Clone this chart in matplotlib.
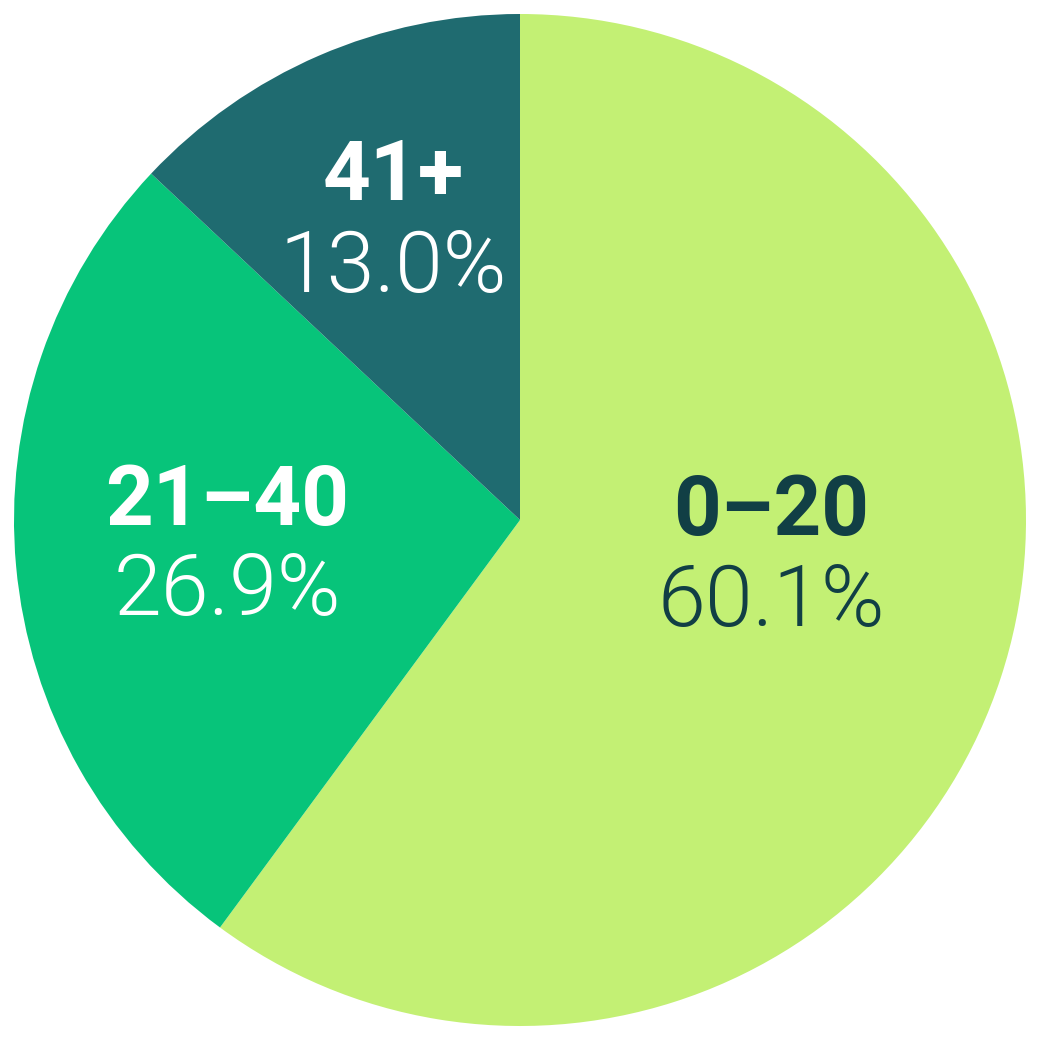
import matplotlib

matplotlib.use("Agg")
import matplotlib.pyplot as plt
from matplotlib import font_manager as fm

# age bands, clockwise from 12 o'clock
labels = ["0\u201320", "21\u201340", "41+"]
shares = [60.1, 26.9, 13.0]
colors = ["#c3f074", "#07c47a", "#1f6b70"]
text_colors = ["#113f45", "white", "white"]

# label anchors (data coords, radius = 1), baseline of name / pct
label_xy = [(0.497, -0.030), (-0.578, -0.010), (-0.250, 0.632)]
pct_y = [-0.209, -0.188, 0.451]


def _face(fname, fallback_weight):
    for f in fm.fontManager.ttflist:
        if f.fname.endswith("/" + fname):
            return fm.FontProperties(fname=f.fname)
    return fm.FontProperties(family="Roboto", weight=fallback_weight)


bold = _face("Roboto-Bold.ttf", "bold")
light = _face("Roboto-Light.ttf", "light")

fig = plt.figure(figsize=(10.4, 10.4), dpi=100)
ax = fig.add_axes([0, 0, 1, 1])
ax.pie(shares, colors=colors, startangle=90, counterclock=False,
       radius=1.0, wedgeprops=dict(linewidth=0))

for (x, y), py, name, val, tc in zip(label_xy, pct_y, labels, shares, text_colors):
    ax.text(x, y, name, ha="center", va="baseline", fontproperties=bold,
            fontsize=60, color=tc)
    ax.text(x, py, f"{val:.1f}%", ha="center", va="baseline",
            fontproperties=light, fontsize=62, color=tc)

lim = 520 / 506
ax.set_xlim(-lim, lim)
ax.set_ylim(-lim, lim)
ax.set_aspect("equal")
ax.axis("off")

fig.savefig("out.png", dpi=100, facecolor="white")
